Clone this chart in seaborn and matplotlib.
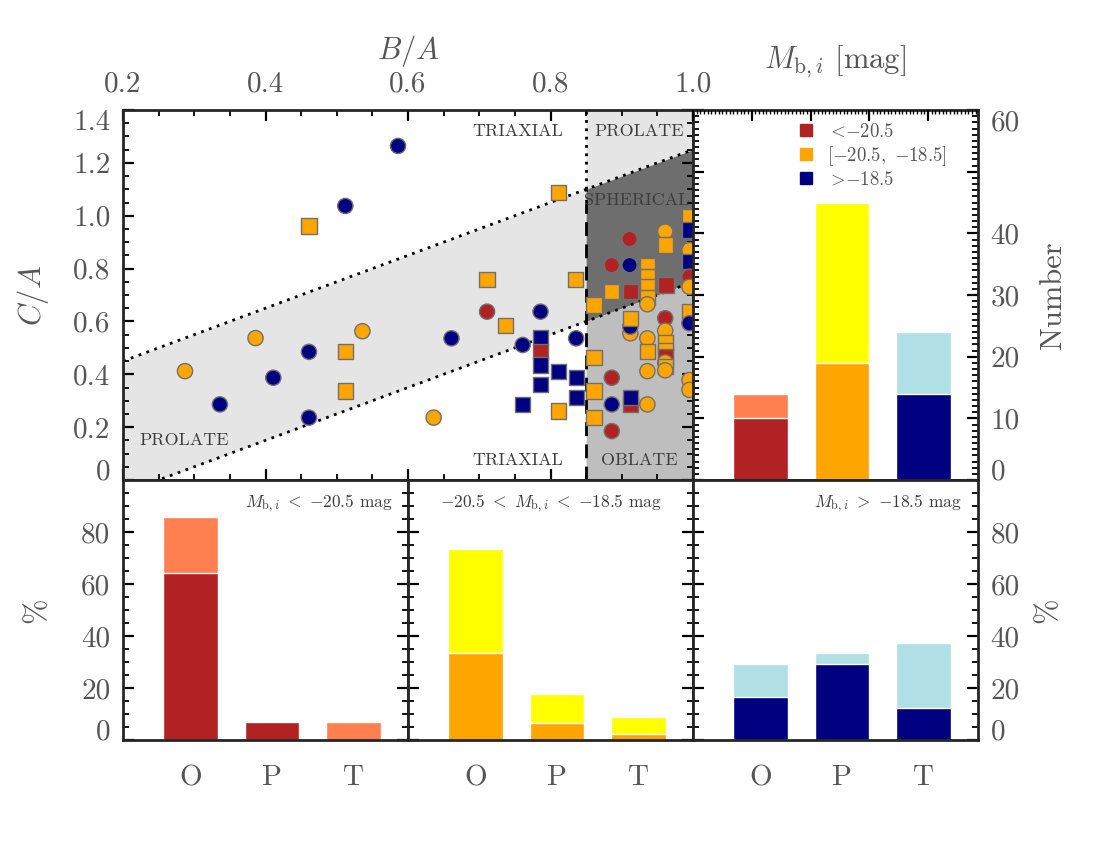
import numpy as np
import pandas as pd
import seaborn as sns
import matplotlib.pyplot as plt
from matplotlib.ticker import MultipleLocator, FixedLocator, FixedFormatter
from matplotlib.lines import Line2D

#   ----------------------------------------------------------------------
#   data

#   axis ratios of each galaxy: B/A, C/A, magnitude bin (r/o/b) and marker kind
ba = [0.586, 0.512, 0.461, 0.386, 0.536, 0.461, 0.512, 0.287, 0.411, 0.336,
      0.512, 0.461, 0.811, 0.711, 0.835, 0.711, 0.737, 0.786, 0.661, 0.761,
      0.836, 0.786, 0.786, 0.786, 0.786, 0.811, 0.836, 0.836, 0.761, 0.811,
      0.636,
      0.861, 0.886, 0.912, 0.911, 0.886, 0.911, 0.936, 0.936, 0.936, 0.936,
      0.936, 0.961, 0.961, 0.962, 0.912, 0.912, 0.912, 0.936, 0.936, 0.936,
      0.961, 0.961, 0.961, 0.961, 0.961, 0.961, 0.961, 0.961, 0.886, 0.886,
      0.912, 0.912, 0.936, 0.886, 0.861, 0.861, 0.861,
      0.995, 0.995, 0.995, 0.995, 0.995, 0.995, 0.995, 0.995, 0.995, 0.995]
ca = [1.264, 1.037, 0.961, 0.537, 0.563, 0.485, 0.485, 0.412, 0.387, 0.286,
      0.337, 0.236, 1.087, 0.760, 0.760, 0.637, 0.586, 0.637, 0.536, 0.511,
      0.536, 0.538, 0.485, 0.435, 0.362, 0.412, 0.387, 0.311, 0.286, 0.261,
      0.236,
      0.662, 0.713, 0.713, 0.912, 0.813, 0.813, 0.810, 0.770, 0.730, 0.690,
      0.665, 0.940, 0.889, 0.738, 0.555, 0.580, 0.612, 0.536, 0.485, 0.412,
      0.612, 0.565, 0.520, 0.490, 0.465, 0.445, 0.430, 0.415, 0.387, 0.286,
      0.286, 0.311, 0.286, 0.185, 0.463, 0.337, 0.236,
      0.996, 0.946, 0.870, 0.826, 0.769, 0.731, 0.637, 0.593, 0.378, 0.341]
mag = ['b', 'b', 'o', 'o', 'o', 'b', 'o', 'o', 'b', 'b',
       'o', 'b', 'o', 'o', 'o', 'r', 'o', 'b', 'b', 'b',
       'b', 'b', 'r', 'b', 'b', 'b', 'b', 'b', 'b', 'o',
       'o',
       'o', 'o', 'r', 'r', 'r', 'b', 'o', 'o', 'o', 'o',
       'o', 'o', 'o', 'r', 'o', 'b', 'o', 'o', 'o', 'o',
       'r', 'o', 'o', 'o', 'r', 'o', 'o', 'o', 'r', 'b',
       'r', 'b', 'o', 'r', 'o', 'o', 'o',
       'o', 'b', 'o', 'b', 'r', 'o', 'o', 'b', 'o', 'o']
kind = ['c', 'c', 's', 'c', 'c', 'c', 's', 'c', 'c', 'c',
        's', 'c', 's', 's', 's', 'c', 's', 'c', 'c', 'c',
        'c', 's', 's', 's', 's', 's', 's', 's', 's', 's',
        'c',
        's', 's', 's', 'c', 'c', 'c', 's', 's', 's', 's',
        'c', 'c', 's', 's', 'c', 'c', 's', 'c', 's', 'c',
        'c', 'c', 's', 's', 's', 'c', 's', 'c', 'c', 'c',
        's', 's', 'c', 'c', 's', 's', 's',
        's', 's', 'c', 's', 'c', 'c', 's', 'c', 'c', 'c']

#   number of galaxies per magnitude bin (all, and the darker subset)
mag_bins = ['bright', 'mid', 'faint']
n_all = [14, 45, 24]
n_dark = [10, 19, 14]
n_ticks = [0, 10, 20, 30, 40, 50, 60]
n_labels = ['0', '10', '20', '30', '40', '', '60']

#   fraction (%) of oblate / prolate / triaxial in each bin
classes = ['O', 'P', 'T']
pct_all = {'bright': [85.7, 7.1, 7.1], 'mid': [73.3, 17.8, 8.9], 'faint': [29.2, 33.3, 37.5]}
pct_dark = {'bright': [64.3, 7.1, 0.0], 'mid': [33.3, 6.7, 2.2], 'faint': [16.7, 29.2, 12.5]}

#   ----------------------------------------------------------------------
#   style
dark_col = {'r': '#B22222', 'o': '#FFA500', 'b': '#000080'}
light_col = {'bright': '#FF7F50', 'mid': '#FFFF00', 'faint': '#B0E0E6'}
bar_dark = {'bright': '#B22222', 'mid': '#FFA500', 'faint': '#000080'}
grey_txt = '#555555'

sns.set_style('ticks')
plt.rcParams['font.family'] = ['cmr10', 'DejaVu Serif']
plt.rcParams['mathtext.fontset'] = 'cm'
plt.rcParams['axes.formatter.use_mathtext'] = True
plt.rcParams['axes.linewidth'] = 2

fig = plt.figure(figsize=(11, 8.5), dpi=100)
W, H = 1100, 850


def box(x0, y0, x1, y1):
    return [x0 / W, 1 - y1 / H, (x1 - x0) / W, (y1 - y0) / H]


ax_sc = fig.add_axes(box(123, 110, 693, 480))
ax_n = fig.add_axes(box(693, 110, 978, 480))
ax_b = [fig.add_axes(box(123 + 285 * i, 480, 408 + 285 * i, 740)) for i in range(3)]


def ticks_in(ax):
    ax.tick_params(which='both', direction='in', color='k', labelcolor=grey_txt, labelsize=21)
    ax.tick_params(which='major', length=8, width=1.6)
    ax.tick_params(which='minor', length=4, width=1.3)


#   ----------------------------------------------------------------------
#   shape diagram
ax = ax_sc
xb = 0.85
ax.fill_between([0.2, xb], [0.2 - 0.25, xb - 0.25], [0.2 + 0.25, xb + 0.25], color='#E5E5E5', lw=0, zorder=0)
ax.fill_between([xb, 1.0], [xb + 0.25, 1.25], [1.5, 1.5], color='#E5E5E5', lw=0, zorder=0)
ax.fill_between([xb, 1.0], [xb - 0.25, 0.75], [xb + 0.25, 1.25], color='#6E6E6E', lw=0, zorder=0)
ax.fill_between([xb, 1.0], [-0.1, -0.1], [xb - 0.25, 0.75], color='#BEBEBE', lw=0, zorder=0)
ax.plot([0.2, 1.0], [0.45, 1.25], color='k', lw=2, ls=(0, (1, 2)), zorder=1)
ax.plot([0.2, 1.0], [-0.05, 0.75], color='k', lw=2, ls=(0, (1, 2)), zorder=1)
ax.plot([xb, xb], [xb + 0.25, 1.4], color='k', lw=2, ls=(0, (1, 2)), zorder=1)
ax.plot([xb, xb], [0, xb + 0.25], color='k', lw=2, ls=(0, (5, 3)), zorder=1)

df = pd.DataFrame({'ba': ba, 'ca': ca, 'mag': mag, 'kind': kind})
sns.scatterplot(data=df, x='ba', y='ca', hue='mag', style='kind', palette=dark_col,
                markers={'c': 'o', 's': 's'}, s=120, edgecolor='#707070', linewidth=1.0,
                legend=False, ax=ax, zorder=5)

reg = dict(color='#3C3C3C', fontsize=13, va='center')
ax.text(0.8175, 1.32, 'TRIAXIAL', ha='right', **reg)
ax.text(0.924, 1.32, 'PROLATE', ha='center', **reg)
ax.text(0.921, 1.059, 'SPHERICAL', ha='center', **reg)
ax.text(0.8175, 0.076, 'TRIAXIAL', ha='right', **reg)
ax.text(0.925, 0.076, 'OBLATE', ha='center', **reg)
ax.text(0.286, 0.151, 'PROLATE', ha='center', **reg)

ax.set_xlim(0.2, 1.0)
ax.set_ylim(0, 1.4)
ax.xaxis.set_major_locator(FixedLocator([0.2, 0.4, 0.6, 0.8, 1.0]))
ax.xaxis.set_major_formatter(FixedFormatter(['0.2', '0.4', '0.6', '0.8', '1.0']))
ax.xaxis.set_minor_locator(MultipleLocator(0.05))
ax.yaxis.set_major_locator(FixedLocator([0, 0.2, 0.4, 0.6, 0.8, 1.0, 1.2, 1.4]))
ax.yaxis.set_major_formatter(FixedFormatter(['0', '0.2', '0.4', '0.6', '0.8', '1.0', '1.2', '1.4']))
ax.yaxis.set_minor_locator(MultipleLocator(0.05))
ticks_in(ax)
ax.tick_params(top=True, right=True, labeltop=True, labelbottom=False, which='both')
ax.tick_params(axis='x', pad=9)
ax.tick_params(axis='y', pad=9)
ax.xaxis.set_label_position('top')
ax.set_xlabel(r'$B/A$', fontsize=22, color=grey_txt, labelpad=9)
ax.set_ylabel(r'$C/A$', fontsize=22, color=grey_txt, labelpad=16)
yt = ax.yaxis.get_major_ticks()
yt[0].label1.set_va('baseline')
yt[-1].label1.set_va('top')

#   ----------------------------------------------------------------------
#   number per magnitude bin
ax = ax_n
sns.barplot(x=mag_bins, y=n_all, hue=mag_bins, palette=light_col, saturation=1, width=0.667,
            errorbar=None, legend=False, ax=ax)
sns.barplot(x=mag_bins, y=n_dark, hue=mag_bins, palette=bar_dark, saturation=1, width=0.667,
            errorbar=None, legend=False, ax=ax)
ax.set_xlim(-0.83, 2.67)
ax.set_ylim(0, 60)
ax.set_xticks([0, 1, 2])
ax.set_xticklabels([])
ax.yaxis.set_major_locator(FixedLocator(n_ticks))
ax.yaxis.set_major_formatter(FixedFormatter(n_labels))
ax.yaxis.set_minor_locator(MultipleLocator(1))
ticks_in(ax)
ax.tick_params(top=False, right=True, left=True, labelleft=False, labelright=True, which='both')
ax.tick_params(axis='x', which='minor', bottom=False)
ax.tick_params(axis='y', pad=9)
ax.set_xlabel('')
ax.yaxis.set_label_position('right')
ax.yaxis.set_label_coords(1.215, 0.635)
ax.set_ylabel('Number', fontsize=22, color=grey_txt)
nt = ax.yaxis.get_major_ticks()
nt[0].label2.set_va('baseline')
nt[-1].label2.set_va('top')

top = ax.twiny()
top.set_xlim(0, 4.85)
top.xaxis.set_major_locator(MultipleLocator(1))
top.xaxis.set_minor_locator(MultipleLocator(1 / 16))
top.tick_params(which='both', direction='in', labeltop=False, color='k')
top.tick_params(which='major', length=8, width=1.6)
top.tick_params(which='minor', length=3, width=1.0)
top.set_xlabel(r'$M_{\mathrm{b},i}$ [mag]', fontsize=22, color=grey_txt, labelpad=30)
for s in top.spines.values():
    s.set_visible(False)

leg_handles = [Line2D([], [], marker='s', ls='', color=bar_dark[b], markersize=9) for b in mag_bins]
leg_labels = [r'$<\!{-}20.5$', r'$[{-}20.5,\ {-}18.5]$', r'$>\!{-}18.5$']
leg = ax.legend(leg_handles, leg_labels, loc='upper left', bbox_to_anchor=(0.345, 0.985), frameon=False,
                fontsize=13.5, handlelength=0.8, handletextpad=0.7, labelspacing=0.15, borderaxespad=0)
for t in leg.get_texts():
    t.set_color(grey_txt)

#   ----------------------------------------------------------------------
#   O / P / T fractions per magnitude bin
notes = [r'$M_{\mathrm{b},i}\ <\ {-}20.5$ mag', r'${-}20.5\ <\ M_{\mathrm{b},i}\ <\ {-}18.5$ mag',
         r'$M_{\mathrm{b},i}\ >\ {-}18.5$ mag']
note_x = [0.947, 0.5, 0.944]
note_ha = ['right', 'center', 'right']
for i, b in enumerate(mag_bins):
    ax = ax_b[i]
    sns.barplot(x=classes, y=pct_all[b], color=light_col[b], saturation=1, width=0.667,
                errorbar=None, ax=ax)
    sns.barplot(x=classes, y=pct_dark[b], color=bar_dark[b], saturation=1, width=0.667,
                errorbar=None, ax=ax)
    ax.set_xlim(-0.83, 2.67)
    ax.set_ylim(0, 100)
    ax.set_xticks([0, 1, 2])
    ax.set_xticklabels(classes)
    ax.yaxis.set_major_locator(FixedLocator([0, 20, 40, 60, 80]))
    ax.yaxis.set_major_formatter(FixedFormatter(['0', '20', '40', '60', '80']))
    ax.yaxis.set_minor_locator(MultipleLocator(5))
    ticks_in(ax)
    ax.tick_params(top=False, right=True, left=True, which='both')
    ax.tick_params(axis='x', which='minor', bottom=False)
    ax.tick_params(axis='x', pad=18)
    ax.tick_params(axis='y', pad=9)
    ax.tick_params(labelleft=(i == 0), labelright=(i == 2))
    ax.set_xlabel('')
    ax.set_ylabel('')
    ax.text(note_x[i], 0.908, notes[i], transform=ax.transAxes, ha=note_ha[i], va='center',
            fontsize=12.5, color='#3C3C3C')
    yt = ax.yaxis.get_major_ticks()
    yt[0].label1.set_va('baseline')
    yt[0].label2.set_va('baseline')

ax_b[0].set_ylabel('%', fontsize=22, color=grey_txt, labelpad=22)
ax_b[2].yaxis.set_label_position('right')
ax_b[2].set_ylabel('%', fontsize=22, color=grey_txt, labelpad=10)

fig.savefig('out.png', dpi=100)
